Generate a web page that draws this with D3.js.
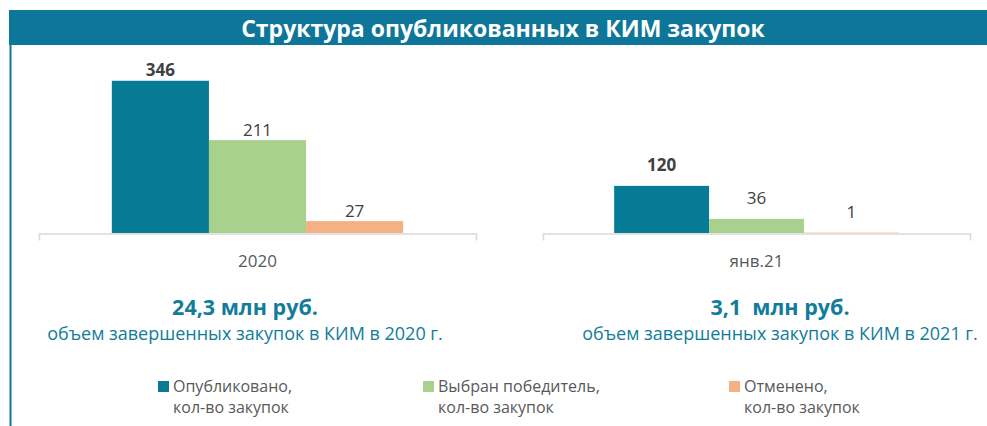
<!DOCTYPE html>
<html>
<head>
<meta charset="utf-8">
<script src="https://cdn.jsdelivr.net/npm/d3@7"></script>
<style>
  body { margin: 0; background: #fff; }
  text { font-family: "Open Sans", "Noto Sans", sans-serif; }
</style>
</head>
<body>
<div id="canvas"></div>
<script>
"use strict"

/* Chart data */
let title = "Структура опубликованных в КИМ закупок";
let categories = ["2020", "янв.21"];
let seriesNames = ["Опубликовано,", "Выбран победитель,", "Отменено,"];
let seriesSub = "кол-во закупок";
let published = [346, 120];
let winners = [211, 36];
let cancelled = [27, 1];
let volumes = ["24,3 млн руб.", "3,1  млн руб."];
let volumeNotes = ["объем завершенных закупок в КИМ в 2020 г.", "объем завершенных закупок в КИМ в 2021 г."];
let axisMax = [400, 140];

let colors = ["#077a95", "#a9d18e", "#f4b183"];
let teal = "#127c9a";
let grayText = "#595959";

let svgWidth = 987;
let svgHeight = 426;

let svg = d3.select("#canvas")
    .append("svg")
    .attr("width", svgWidth)
    .attr("height", svgHeight);

/* Title bar and left frame line */
svg.append("rect")
    .attr("x", 9)
    .attr("y", 10)
    .attr("width", svgWidth - 9)
    .attr("height", 35)
    .attr("fill", "#0e7699");

svg.append("line")
    .attr("x1", 10.5).attr("x2", 10.5)
    .attr("y1", 45).attr("y2", svgHeight)
    .attr("stroke", "#0e7699")
    .attr("stroke-width", 2);

svg.append("text")
    .attr("x", 503)
    .attr("y", 28)
    .attr("text-anchor", "middle")
    .attr("dominant-baseline", "central")
    .attr("fill", "white")
    .style("font-size", "23px")
    .style("font-weight", "bold")
    .text(title);

/* One small bar chart per period */
let panelRanges = [[39, 476], [543, 970]];
let baseline = 233;
let plotTop = [57, 178];
let labelGap = [11, 21];

categories.forEach(function (cat, i) {
    let values = [published[i], winners[i], cancelled[i]];

    let x = d3.scaleBand()
        .domain([cat])
        .range(panelRanges[i]);

    let xSeries = d3.scaleBand()
        .domain(d3.range(3))
        .range([0, x.bandwidth()])
        .paddingInner(0)
        .paddingOuter(0.75);

    let y = d3.scaleLinear()
        .domain([0, axisMax[i]])
        .range([baseline, plotTop[i]]);

    let g = svg.append("g");

    let axis = g.append("g")
        .attr("transform", "translate(0," + (baseline + 0.5) + ")")
        .call(d3.axisBottom(x).tickSizeInner(0).tickSizeOuter(7).tickPadding(21));
    axis.select(".domain").attr("stroke", "#d9d9d9").attr("stroke-width", 1.5);
    axis.selectAll(".tick text")
        .attr("fill", grayText)
        .style("font-size", "17px")
        .style("font-family", "'Open Sans', sans-serif");

    g.selectAll("rect.bar")
        .data(values)
        .join("rect")
        .attr("class", "bar")
        .attr("x", function (d, j) { return x(cat) + xSeries(j); })
        .attr("width", xSeries.bandwidth())
        .attr("y", function (d) { return y(d); })
        .attr("height", function (d) { return baseline - y(d); })
        .attr("fill", function (d, j) { return colors[j]; });

    g.selectAll("text.val")
        .data(values)
        .join("text")
        .attr("class", "val")
        .attr("x", function (d, j) { return x(cat) + xSeries(j) + xSeries.bandwidth() / 2; })
        .attr("y", function (d) { return y(d) - labelGap[i]; })
        .attr("text-anchor", "middle")
        .attr("dominant-baseline", "central")
        .attr("fill", "#404040")
        .style("font-size", "17px")
        .style("font-weight", function (d, j) { return j === 0 ? "bold" : "normal"; })
        .text(function (d) { return d; });

    /* Volume summary under each panel */
    let cx = i === 0 ? 245 : 780;
    svg.append("text")
        .attr("x", cx)
        .attr("y", 306)
        .attr("text-anchor", "middle")
        .attr("dominant-baseline", "central")
        .attr("fill", teal)
        .style("font-size", "21.5px")
        .style("font-weight", "bold")
        .style("white-space", "pre")
        .text(volumes[i]);

    svg.append("text")
        .attr("x", cx)
        .attr("y", 333)
        .attr("text-anchor", "middle")
        .attr("dominant-baseline", "central")
        .attr("fill", teal)
        .style("font-size", "18px")
        .text(volumeNotes[i]);
});

/* Legend */
let legendX = [158, 423, 729];
seriesNames.forEach(function (name, j) {
    svg.append("rect")
        .attr("x", legendX[j])
        .attr("y", 381)
        .attr("width", 11)
        .attr("height", 11)
        .attr("fill", colors[j]);

    svg.append("text")
        .attr("x", legendX[j] + 15)
        .attr("y", 386)
        .attr("dominant-baseline", "central")
        .attr("fill", grayText)
        .style("font-size", "16px")
        .text(name);

    svg.append("text")
        .attr("x", legendX[j] + 15)
        .attr("y", 407)
        .attr("dominant-baseline", "central")
        .attr("fill", grayText)
        .style("font-size", "16px")
        .text(seriesSub);
});
</script>
</body>
</html>
